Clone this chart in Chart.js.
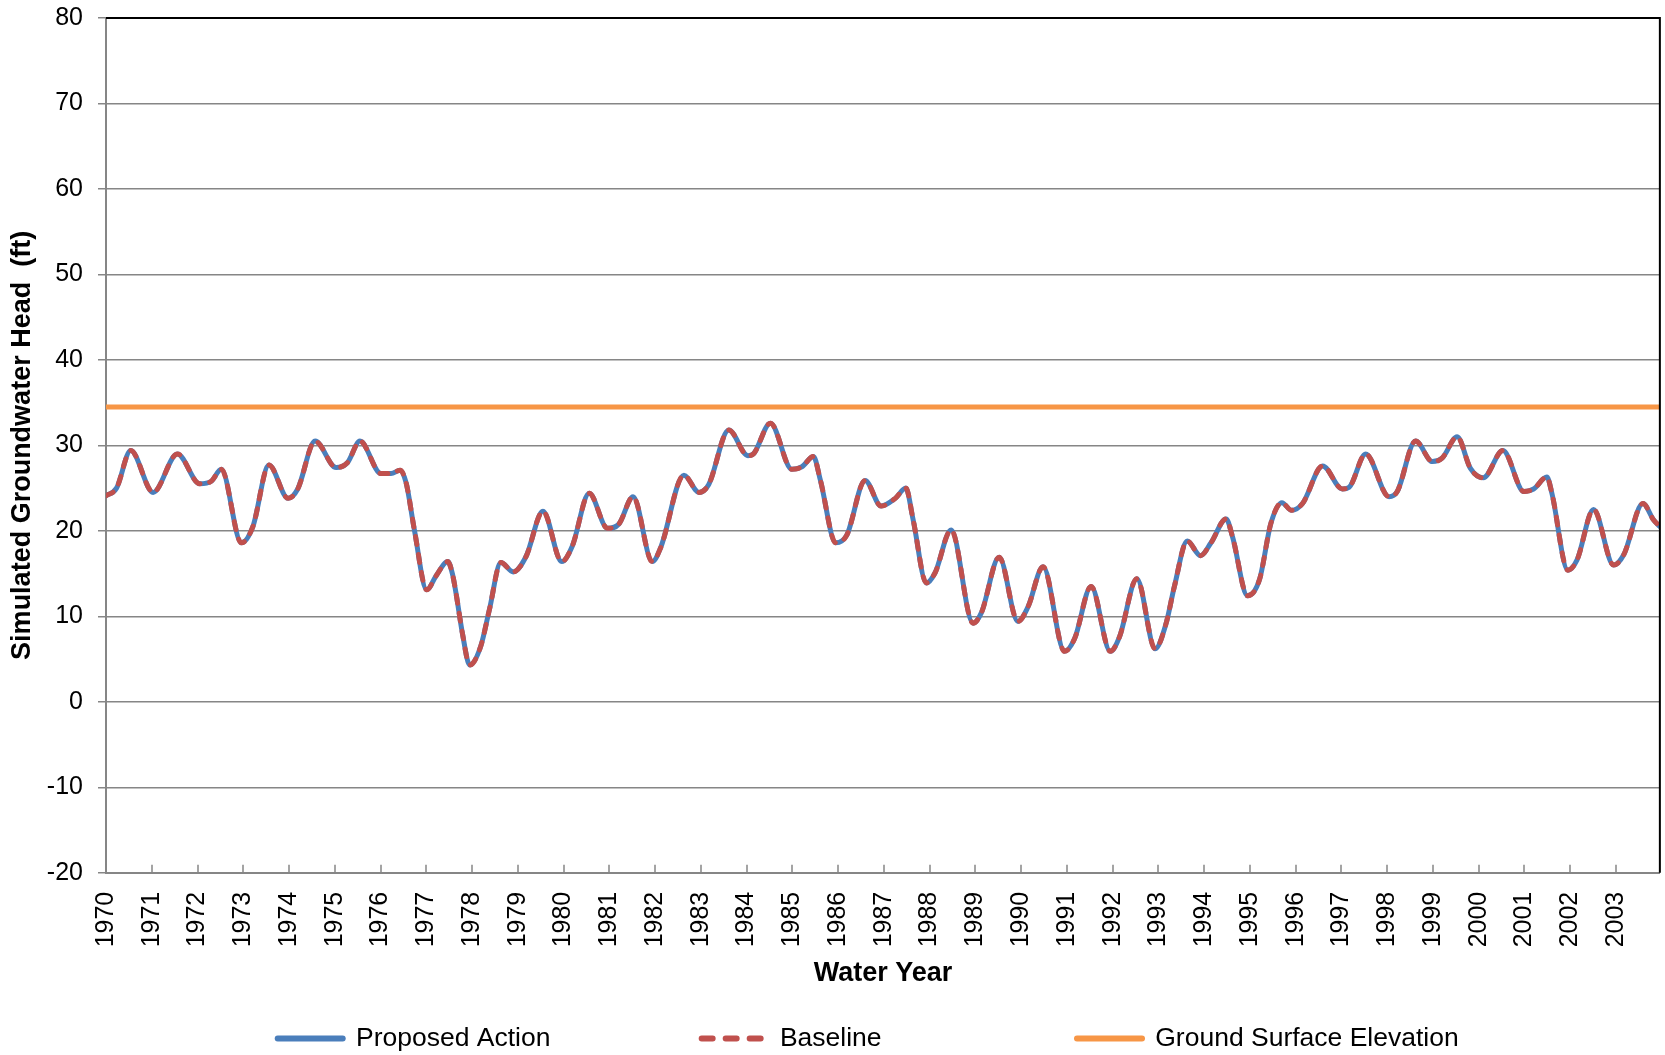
<!DOCTYPE html>
<html>
<head>
<meta charset="utf-8">
<title>Simulated Groundwater Head</title>
<script src="https://cdn.jsdelivr.net/npm/chart.js@4/dist/chart.umd.min.js"></script>
<style>
  html, body { margin: 0; padding: 0; background: #fff; }
</style>
</head>
<body>
<canvas id="headChart" width="1665" height="1055"></canvas>
<script>
// values (water year as decimal, head in ft)
let waterYear = [
    1970.00, 1970.23, 1970.54, 1971.03, 1971.56, 1972.05, 1972.30, 1972.52, 1972.96, 1973.21,
    1973.56, 1973.98, 1974.19, 1974.57, 1975.03, 1975.28, 1975.55, 1976.01, 1976.23, 1976.43,
    1976.56, 1976.74, 1977.01, 1977.21, 1977.47, 1977.57, 1977.65, 1977.79, 1977.95, 1978.19,
    1978.38, 1978.63, 1978.90, 1979.18, 1979.55, 1979.96, 1980.19, 1980.56, 1980.96, 1981.21,
    1981.52, 1981.94, 1982.12, 1982.63, 1982.96, 1983.17, 1983.61, 1984.03, 1984.15, 1984.52,
    1984.99, 1985.21, 1985.46, 1985.61, 1985.95, 1986.19, 1986.59, 1986.94, 1987.25, 1987.48,
    1987.64, 1987.93, 1988.12, 1988.47, 1988.95, 1989.13, 1989.52, 1989.93, 1990.15, 1990.48,
    1990.95, 1991.17, 1991.53, 1991.95, 1992.15, 1992.53, 1992.93, 1993.17, 1993.35, 1993.63,
    1993.92, 1994.15, 1994.48, 1994.62, 1994.95, 1995.21, 1995.46, 1995.70, 1995.91, 1996.15,
    1996.59, 1997.02, 1997.17, 1997.53, 1998.04, 1998.22, 1998.62, 1998.99, 1999.20, 1999.53,
    1999.82, 2000.10, 2000.53, 2000.99, 2001.20, 2001.49, 2001.60, 2001.95, 2002.15, 2002.51,
    2002.95, 2003.17, 2003.59, 2003.82, 2003.96
];

let proposedAction = [
    24.1, 25.0, 29.4, 24.5, 29.0, 25.5, 25.8, 27.2, 18.6, 20.5,
    27.7, 23.8, 24.9, 30.5, 27.4, 28.0, 30.5, 26.7, 26.7, 27.1,
    25.6, 20.1, 13.1, 14.7, 16.4, 15.0, 12.7, 8.0, 4.3, 6.5,
    10.8, 16.3, 15.2, 17.0, 22.3, 16.4, 18.2, 24.4, 20.3, 20.8,
    24.0, 16.4, 18.0, 26.5, 24.5, 25.4, 31.8, 28.8, 29.0, 32.6,
    27.2, 27.5, 28.7, 26.0, 18.6, 19.5, 25.9, 22.9, 23.8, 25.0,
    21.3, 13.9, 15.1, 20.1, 9.2, 10.4, 16.9, 9.4, 11.1, 15.8,
    5.9, 7.4, 13.5, 5.9, 7.6, 14.4, 6.2, 9.2, 13.5, 18.8,
    17.1, 18.6, 21.4, 19.3, 12.4, 14.3, 20.9, 23.3, 22.4, 23.2,
    27.6, 24.9, 25.1, 29.0, 24.0, 24.6, 30.5, 28.1, 28.5, 31.0,
    27.3, 26.2, 29.4, 24.6, 24.9, 26.3, 24.4, 15.4, 16.6, 22.5,
    16.0, 17.2, 23.2, 21.3, 20.5
];

// baseline sits right on top of the proposed action line
let baseline = [
    24.1, 25.0, 29.4, 24.5, 29.0, 25.5, 25.8, 27.2, 18.6, 20.5,
    27.7, 23.8, 24.9, 30.5, 27.4, 28.0, 30.5, 26.7, 26.7, 27.1,
    25.6, 20.1, 13.1, 14.7, 16.4, 15.0, 12.7, 8.0, 4.3, 6.5,
    10.8, 16.3, 15.2, 17.0, 22.3, 16.4, 18.2, 24.4, 20.3, 20.8,
    24.0, 16.4, 18.0, 26.5, 24.5, 25.4, 31.8, 28.8, 29.0, 32.6,
    27.2, 27.5, 28.7, 26.0, 18.6, 19.5, 25.9, 22.9, 23.8, 25.0,
    21.3, 13.9, 15.1, 20.1, 9.2, 10.4, 16.9, 9.4, 11.1, 15.8,
    5.9, 7.4, 13.5, 5.9, 7.6, 14.4, 6.2, 9.2, 13.5, 18.8,
    17.1, 18.6, 21.4, 19.3, 12.4, 14.3, 20.9, 23.3, 22.4, 23.2,
    27.6, 24.9, 25.1, 29.0, 24.0, 24.6, 30.5, 28.1, 28.5, 31.0,
    27.3, 26.2, 29.4, 24.6, 24.9, 26.3, 24.4, 15.4, 16.6, 22.5,
    16.0, 17.2, 23.2, 21.3, 20.5
];

let groundSurfaceYear = [1970, 2003.96];
let groundSurface = [34.5, 34.5];

let yearTicks = [
    1970, 1971, 1972, 1973, 1974, 1975, 1976, 1977, 1978, 1979,
    1980, 1981, 1982, 1983, 1984, 1985, 1986, 1987, 1988, 1989,
    1990, 1991, 1992, 1993, 1994, 1995, 1996, 1997, 1998, 1999,
    2000, 2001, 2002, 2003
];

let headTicks = [-20, -10, 0, 10, 20, 30, 40, 50, 60, 70, 80];

// trailing spaces spread the legend entries out like the original
let legendPad = ['\u00a0'.repeat(20), '\u00a0'.repeat(26), '\u00a0'.repeat(4)];

function toPoints(xs, ys) {
    return xs.map((x, i) => ({ x: x, y: ys[i] }));
}

let gridGray = '#868686';
Chart.defaults.font.family = "'Liberation Sans', Arial, sans-serif";
Chart.defaults.color = '#000';

// x ticks point up into the plot, and the plot has a black top/right edge
let plotFrame = {
    id: 'plotFrame',
    afterDatasetsDraw(chart) {
        let ctx = chart.ctx;
        let area = chart.chartArea;
        let xScale = chart.scales.x;
        ctx.save();
        ctx.strokeStyle = gridGray;
        ctx.lineWidth = 1.5;
        xScale.ticks.forEach(t => {
            let px = Math.round(xScale.getPixelForValue(t.value));
            ctx.beginPath();
            ctx.moveTo(px, area.bottom);
            ctx.lineTo(px, area.bottom - 8);
            ctx.stroke();
        });
        ctx.strokeStyle = '#000';
        ctx.lineWidth = 2;
        ctx.beginPath();
        ctx.moveTo(area.left, area.top);
        ctx.lineTo(area.right, area.top);
        ctx.lineTo(area.right, area.bottom);
        ctx.stroke();
        ctx.restore();
    }
};

let ctx = document.getElementById('headChart').getContext('2d');

new Chart(ctx, {
    type: 'line',
    data: {
        datasets: [{
            label: 'Proposed Action',
            data: toPoints(waterYear, proposedAction),
            borderColor: '#4a7ebb',
            borderWidth: 5,
            borderCapStyle: 'round',
            pointRadius: 0,
            cubicInterpolationMode: 'monotone',
            order: 1
        }, {
            label: 'Baseline',
            data: toPoints(waterYear, baseline),
            borderColor: '#c0504d',
            borderWidth: 5,
            borderDash: [8, 10],
            borderCapStyle: 'round',
            pointRadius: 0,
            cubicInterpolationMode: 'monotone',
            order: 0
        }, {
            label: 'Ground Surface Elevation',
            data: toPoints(groundSurfaceYear, groundSurface),
            borderColor: '#f79646',
            borderWidth: 5,
            borderCapStyle: 'round',
            pointRadius: 0,
            order: 2
        }]
    },
    options: {
        responsive: false,
        animation: false,
        // legend box carries 10px of extra height underneath, pulled back with a negative pad
        layout: { padding: { top: 18, right: 2, bottom: -6.75, left: 0 } },
        scales: {
            x: {
                type: 'linear',
                min: 1970,
                max: 2003.96,
                afterBuildTicks: scale => { scale.ticks = yearTicks.map(v => ({ value: v })); },
                afterFit: scale => { scale.height = 148.5; },
                grid: { display: false, drawTicks: false },
                border: { display: true, color: gridGray, width: 2 },
                ticks: {
                    autoSkip: false,
                    minRotation: 90,
                    maxRotation: 90,
                    padding: 19,
                    font: { size: 25 },
                    callback: v => String(v)
                },
                title: {
                    display: true,
                    text: 'Water Year',
                    font: { size: 27, weight: 'bold' },
                    padding: { top: 0, bottom: 32 }
                }
            },
            y: {
                min: -20,
                max: 80,
                afterBuildTicks: scale => { scale.ticks = headTicks.map(v => ({ value: v })); },
                afterFit: scale => {
                    scale.width = 106;
                    scale.paddingTop = 0;
                    scale.paddingBottom = 0;
                },
                grid: { color: gridGray, lineWidth: 1.5, tickLength: 8 },
                border: { display: true, color: gridGray, width: 2 },
                ticks: { padding: 15, font: { size: 25 } },
                title: {
                    display: true,
                    text: 'Simulated Groundwater Head  (ft)',
                    font: { size: 27, weight: 'bold' },
                    padding: { top: 6, bottom: 0 }
                }
            }
        },
        plugins: {
            tooltip: { enabled: false },
            legend: {
                position: 'bottom',
                fullSize: false,
                labels: {
                    usePointStyle: true,
                    pointStyle: 'line',
                    pointStyleWidth: 65,
                    padding: 4,
                    color: '#000',
                    font: { size: 26.5 },
                    sort: (a, b) => a.datasetIndex - b.datasetIndex,
                    generateLabels(chart) {
                        let items = Chart.defaults.plugins.legend.labels.generateLabels(chart);
                        items.forEach(item => {
                            let ds = chart.data.datasets[item.datasetIndex];
                            item.text += legendPad[item.datasetIndex];
                            item.lineWidth = 6;
                            item.lineCap = 'round';
                            item.lineDash = ds.borderDash ? [11, 13] : [];
                        });
                        return items;
                    }
                }
            }
        }
    },
    plugins: [plotFrame]
});
</script>
</body>
</html>
